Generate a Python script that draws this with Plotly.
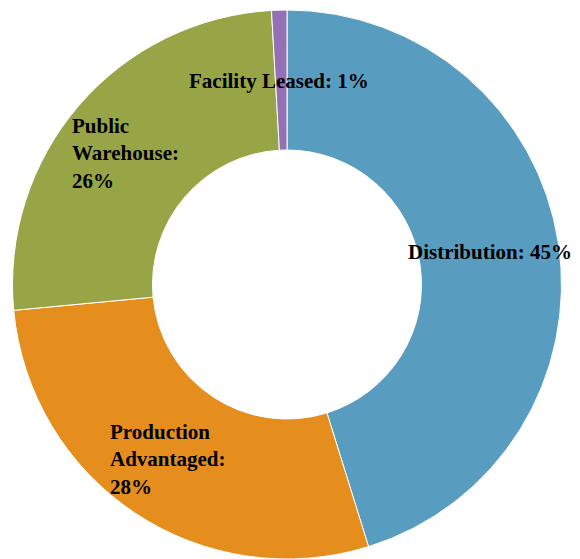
import plotly.graph_objects as go

categories = ["Distribution", "Production<br>Advantaged", "Public<br>Warehouse", "Facility Leased"]
values = [45.2, 28.3, 25.6, 0.9]
percent_labels = ["45%", "28%", "26%", "1%"]
colors = ["#589CC0", "#E58E1E", "#97A546", "#9470B4"]

W, H = 580, 559

fig = go.Figure()
fig.add_trace(go.Pie(
    labels=categories,
    values=values,
    sort=False,
    direction="clockwise",
    rotation=0,
    hole=0.49,
    textinfo="none",
    hoverinfo="label+percent",
    marker=dict(colors=colors, line=dict(color="white", width=1)),
    domain=dict(x=[12 / W, 562 / W], y=[0, 1 - 10 / H]),
    showlegend=False,
))

# label placement (pixel positions of label anchors)
label_pos = [
    (490, 252, "center", "center"),
    (108, 459, "left", "left"),
    (70, 153, "left", "left"),
    (279, 81, "center", "center"),
]
sep = [": ", ":<br>", ":<br>", ": "]
for cat, pct, s, (px, py, xa, al) in zip(categories, percent_labels, sep, label_pos):
    fig.add_annotation(
        x=px / W, y=1 - py / H, xref="paper", yref="paper",
        text=f"<b>{cat}{s}{pct}</b>",
        showarrow=False, xanchor=xa, yanchor="middle", align=al,
        font=dict(family="Liberation Serif", size=21, color="black"),
    )

fig.update_layout(
    width=W, height=H,
    margin=dict(l=0, r=0, t=0, b=0),
    paper_bgcolor="white",
    plot_bgcolor="white",
)

fig.write_html("out.html")
